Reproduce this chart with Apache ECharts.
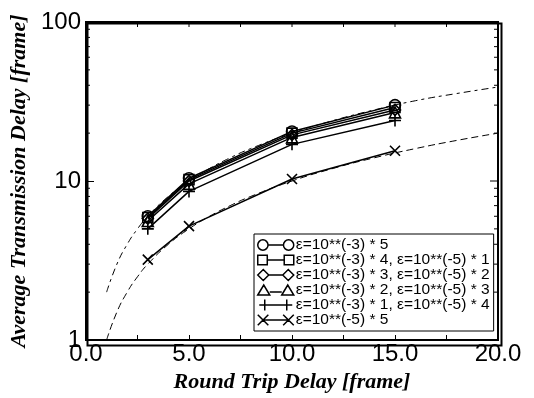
<!DOCTYPE html>
<html>
<head>
<meta charset="utf-8">
<script src="https://cdn.jsdelivr.net/npm/echarts@6/dist/echarts.min.js"></script>
<style>
  html, body { margin: 0; padding: 0; background: #fff; }
  #chart { width: 534px; height: 398px; }
</style>
</head>
<body>
<div id="chart"></div>
<script>
// measured points (round trip delay -> average transmission delay)
const rtt = [3, 5, 10, 15];
const seriesNames = [
  "ε=10**(-3) * 5",
  "ε=10**(-3) * 4, ε=10**(-5) * 1",
  "ε=10**(-3) * 3, ε=10**(-5) * 2",
  "ε=10**(-3) * 2, ε=10**(-5) * 3",
  "ε=10**(-3) * 1, ε=10**(-5) * 4",
  "ε=10**(-5) * 5"
];
const delayE5 = [6.0, 10.4, 20.5, 30.0];
const delayE4 = [5.9, 10.2, 20.0, 29.0];
const delayE3 = [5.8, 10.0, 19.5, 28.0];
const delayE2 = [5.6, 9.6, 18.8, 27.0];
const delayE1 = [5.0, 8.6, 17.0, 24.0];
const delayE0 = [3.2, 5.2, 10.3, 15.5];

// dashed reference curves
const curveX = [1, 1.5, 2, 2.5, 3, 4, 5, 6, 7, 8, 10, 12, 14, 16, 18, 20];
const upperCurve = [2.0, 3.0, 4.0, 5.0, 6.0, 8.0, 10, 12, 14, 16, 20, 24, 28, 32, 35.5, 39];
const lowerCurve = [1.0, 1.5, 2.0, 2.5, 3.0, 4.0, 5.0, 6.0, 7.0, 8.0, 10, 12, 14, 16, 18, 20];

// tick values for the log axis (major and minor)
const majorTicks = [1, 10, 100];
const minorTicks = [2, 3, 4, 5, 6, 7, 8, 9, 20, 30, 40, 50, 60, 70, 80, 90];

const symbols = [
  'circle',
  'rect',
  'diamond',
  'triangle',
  'path://M0,5L10,5M5,0L5,10',
  'path://M0,0L10,10M10,0L0,10'
];
const symbolSizes = [11, 10, 11, 11, 12, 10];

const legendIcons = [
  'path://M0.5,6A5,5 0 1,0 10.5,6A5,5 0 1,0 0.5,6ZM10.5,6L25.5,6M25.5,6A5,5 0 1,0 35.5,6A5,5 0 1,0 25.5,6Z',
  'path://M1,1.5L10,1.5L10,10.5L1,10.5ZM10,6L26,6M26,1.5L35,1.5L35,10.5L26,10.5Z',
  'path://M0,6L5.5,0.5L11,6L5.5,11.5ZM11,6L25,6M25,6L30.5,0.5L36,6L30.5,11.5Z',
  'path://M0,11L6,1L12,11ZM12,8L24,8M24,11L30,1L36,11Z',
  'path://M0,6L36,6M6,0L6,12M30,0L30,12',
  'path://M1,1L11,11M11,1L1,11M6,6L30,6M25,1L35,11M35,1L25,11'
];

const allDelays = [delayE5, delayE4, delayE3, delayE2, delayE1, delayE0];
const pairs = (xs, ys) => xs.map((x, i) => [x, ys[i]]);

const fontSans = "Arial, 'Liberation Sans', Helvetica, sans-serif";
const fontSerif = "'Liberation Serif', 'Times New Roman', serif";

const dataSeries = allDelays.map((d, i) => ({
  name: seriesNames[i],
  type: 'line',
  data: pairs(rtt, d),
  symbol: symbols[i],
  symbolSize: symbolSizes[i],
  z: 5,
  lineStyle: { color: '#000', width: 1.5 },
  itemStyle: { color: 'rgba(0,0,0,0)', borderColor: '#000', borderWidth: 1.6 },
  emphasis: { disabled: true }
}));

const option = {
  animation: false,
  backgroundColor: '#fff',
  grid: { left: 86, right: 36, top: 22, bottom: 56, show: true, borderColor: '#000', borderWidth: 2 },
  graphic: [{
    type: 'rect', left: 85, top: 21, z: 100,
    shape: { width: 414, height: 322 },
    style: { fill: 'none', stroke: '#000', lineWidth: 2 }
  }],
  legend: {
    orient: 'vertical',
    left: 254,
    top: 234,
    padding: [3, 4, 3, 3],
    itemGap: -1,
    itemWidth: 36,
    itemHeight: 11,
    borderColor: '#000',
    borderWidth: 1,
    backgroundColor: '#fff',
    textStyle: { fontFamily: fontSans, fontSize: 15.5, color: '#000', padding: [0, 0, 0, -3] },
    data: seriesNames.map((n, i) => ({
      name: n,
      icon: legendIcons[i],
      itemStyle: { color: 'rgba(0,0,0,0)', borderColor: '#000', borderWidth: 1.5 }
    }))
  },
  xAxis: {
    type: 'value', min: 0, max: 20, interval: 2.5,
    name: 'Round Trip Delay [frame]', nameLocation: 'middle', nameGap: 31,
    nameTextStyle: { fontFamily: fontSerif, fontSize: 22, fontWeight: 'bold', fontStyle: 'italic', color: '#000' },
    axisLine: { show: true, onZero: false, lineStyle: { color: '#000', width: 2 } },
    axisTick: { inside: true, length: 5, lineStyle: { color: '#000' } },
    axisLabel: {
      fontFamily: fontSans, fontSize: 24, color: '#000', margin: 2,
      formatter: v => (v % 5 === 0 ? v.toFixed(1) : '')
    },
    splitLine: { show: false }
  },
  yAxis: {
    type: 'log', logBase: 10, min: 1, max: 100,
    name: 'Average Transmission Delay [frame]', nameLocation: 'middle', nameGap: 56,
    nameTextStyle: { fontFamily: fontSerif, fontSize: 22, fontWeight: 'bold', fontStyle: 'italic', color: '#000' },
    axisLine: { show: true, onZero: false, lineStyle: { color: '#000', width: 2 } },
    axisTick: { inside: true, length: 8, lineStyle: { color: '#000' } },
    axisLabel: { fontFamily: fontSans, fontSize: 24, color: '#000', margin: 5 },
    splitLine: { show: false }
  },
  series: [
    {
      name: 'upper', type: 'line', data: pairs(curveX, upperCurve),
      showSymbol: false, smooth: true, z: 2,
      lineStyle: { color: '#000', width: 1, type: [7, 4, 3, 4] },
      emphasis: { disabled: true }
    },
    {
      name: 'lower', type: 'line', data: pairs(curveX, lowerCurve),
      showSymbol: false, smooth: true, z: 2,
      lineStyle: { color: '#000', width: 1, type: [7, 4] },
      emphasis: { disabled: true }
    },
    {
      // mirrored ticks: log ticks on the right edge, x ticks on the top edge, minor log ticks on the left
      name: 'ticks', type: 'custom', z: 1, clip: false,
      data: minorTicks.map(v => [0, v, 4, 1]).concat(majorTicks.map(v => [0, v, 8, 0])),
      renderItem: (params, api) => {
        const p = api.coord([0, api.value(1)]);
        const cs = params.coordSys;
        const len = api.value(2);
        const st = { stroke: '#000', lineWidth: 1 };
        const children = [
          { type: 'line', shape: { x1: cs.x + cs.width, y1: p[1], x2: cs.x + cs.width - len, y2: p[1] }, style: st }
        ];
        if (api.value(3) === 1) {
          children.push({ type: 'line', shape: { x1: cs.x, y1: p[1], x2: cs.x + len, y2: p[1] }, style: st });
        }
        if (params.dataIndex === 0) {
          for (let v = 0; v <= 20; v += 2.5) {
            const q = api.coord([v, 1]);
            children.push({ type: 'line', shape: { x1: q[0], y1: cs.y, x2: q[0], y2: cs.y + 5 }, style: st });
          }
        }
        return { type: 'group', children };
      }
    },
    ...dataSeries
  ]
};

const chart = echarts.init(document.getElementById('chart'));
chart.setOption(option);
</script>
</body>
</html>
